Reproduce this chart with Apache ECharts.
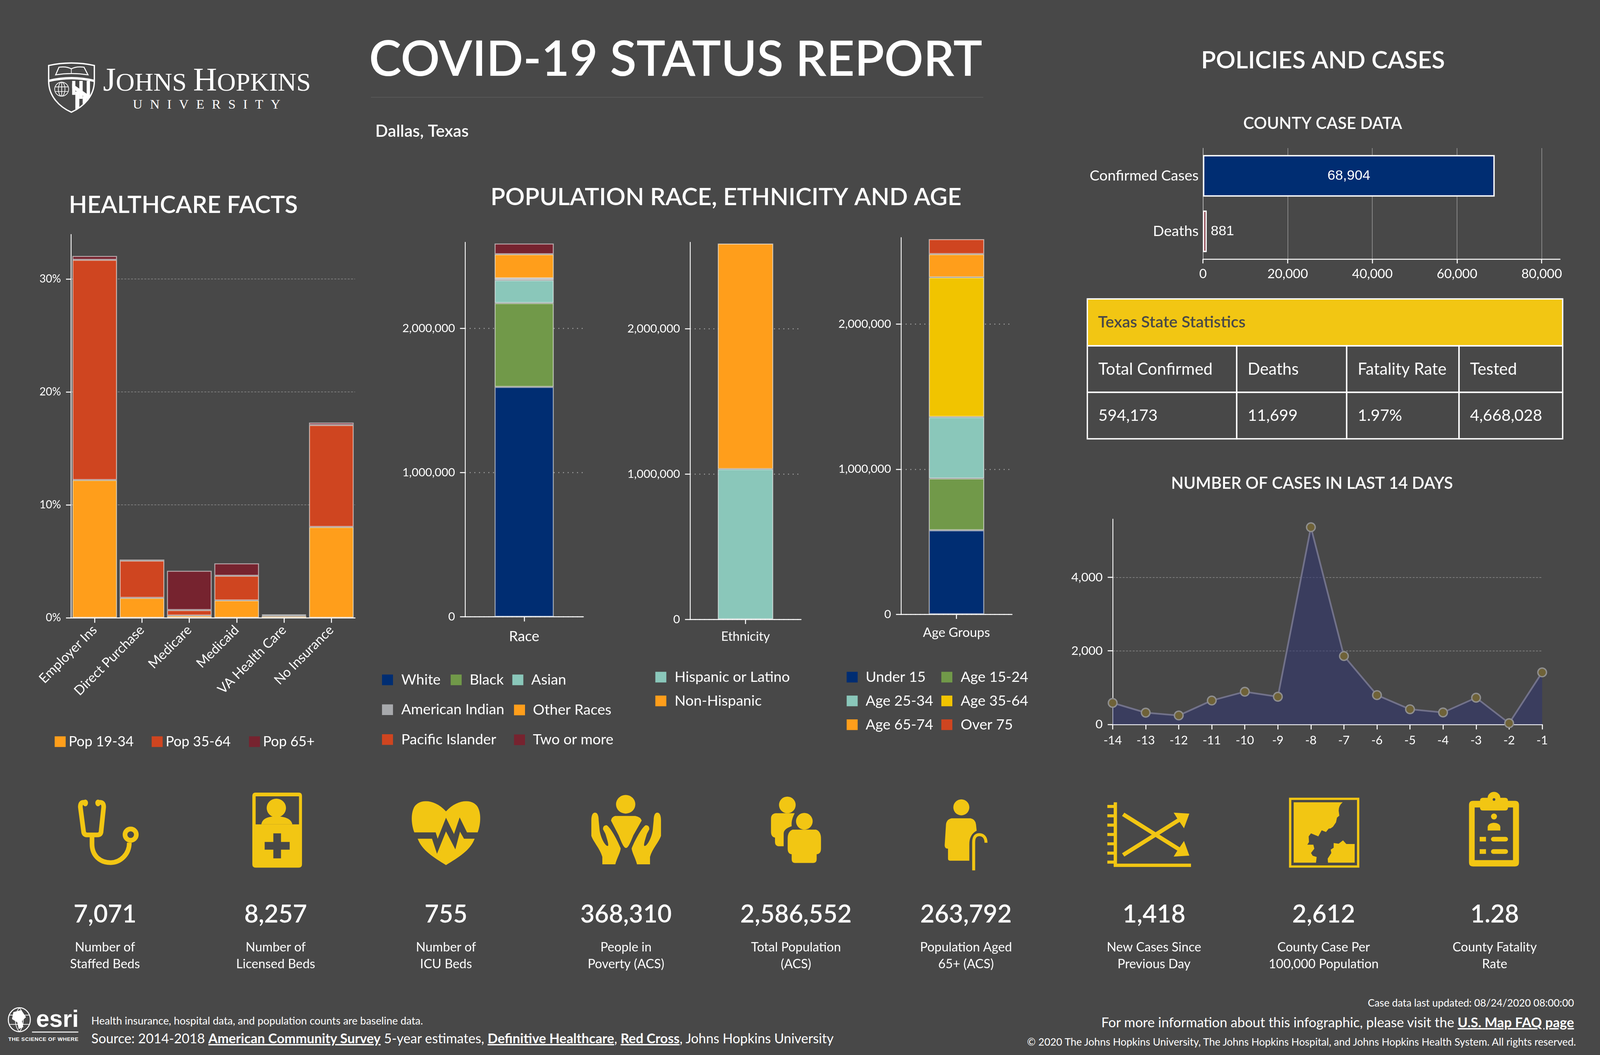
<!DOCTYPE html>
<html>
<head>
<meta charset="utf-8">
<title>COVID-19 Status Report - Dallas, Texas</title>
<style>
html, body { margin: 0; width: 100%; height: 100%; overflow: hidden; background: #484848; }
#art, #chart { position: absolute; left: 0; top: 0; width: 100%; height: 100%; }
#art text { font-family: Lato, sans-serif; fill: #fff; }
</style>
</head>
<body>
<!-- logos, icons and footer lines: drawn in 4800x2700 units, each piece is placed by its data-at anchor -->
<svg id="art" xmlns="http://www.w3.org/2000/svg">
  <defs>
    <clipPath id="quarter"><path d="M216,204H281V212C281,250 250,280 216,295Z"/></clipPath>
  </defs>
  <g data-at="145 224">
    <g fill="none" stroke="#fff" stroke-width="4">
      <path d="M146,158Q214,143 283,158V205C283,250 250,282 214,298C178,282 146,250 146,205Z"/>
      <path d="M147,204Q214,188 282,204" stroke-width="7"/>
      <path d="M167,186L177,163Q200,160 214,168Q228,160 252,163L264,186Q214,178 167,186Z" stroke-width="3"/>
      <path d="M214,168V182" stroke-width="2"/>
      <g stroke-width="2">
        <circle cx="185" cy="229" r="21"/><ellipse cx="185" cy="229" rx="10" ry="21"/>
        <path d="M185,208V250M165,222H205M165,236H205"/>
      </g>
    </g>
    <g clip-path="url(#quarter)" fill="#fff">
      <path d="M216,204H226V246H216ZM238,204H248V258H238ZM260,204H270V268H260Z"/>
      <path d="M216,212L282,258V272L216,226Z"/>
      <path d="M226,236H238V292H226ZM248,250H260V292H248Z"/>
    </g>
    <text y="233" style="font-family:'Liberation Serif',serif" font-size="78"><tspan x="309" font-size="99">J</tspan>OHNS <tspan font-size="99">H</tspan>OPKINS</text>
    <text x="631" y="287" text-anchor="middle" style="font-family:'Liberation Serif',serif" font-size="40" letter-spacing="22.5">UNIVERSITY</text>
  </g>
  <g data-at="25 2620">
    <g fill="none" stroke="#fff" stroke-width="3">
      <ellipse cx="58" cy="2608" rx="33" ry="36"/>
      <path d="M58,2572C42,2590 42,2626 58,2644M58,2572C74,2590 74,2626 58,2644M27,2594H89M27,2622H89" stroke-width="2"/>
    </g>
    <path d="M40,2585L64,2579L78,2600L66,2612L70,2630L56,2636L52,2616L36,2606Z" fill="#fff"/>
    <text x="108" y="2629" font-size="72" font-weight="700" style="font-family:'Liberation Sans',sans-serif">esri</text>
    <path d="M96,2645H235" stroke="#fff" stroke-width="3"/>
    <text x="25" y="2672" font-size="16" font-weight="700" textLength="210" style="font-family:'Liberation Sans',sans-serif">THE SCIENCE OF WHERE</text>
  </g>
  <text data-at="274 2613" x="274" y="2623" font-size="31.5">Health insurance, hospital data, and population counts are baseline data.</text>
  <text data-at="274 2658" x="274" y="2672" font-size="40">Source: 2014-2018 <tspan font-weight="700" text-decoration="underline">American Community Survey</tspan> 5-year estimates, <tspan font-weight="700" text-decoration="underline">Definitive Healthcare</tspan>, <tspan font-weight="700" text-decoration="underline">Red Cross</tspan>, Johns Hopkins University</text>
  <text data-at="4722 2567" x="4722" y="2577" font-size="30.6" text-anchor="end">Case data last updated: 08/24/2020 08:00:00</text>
  <text data-at="4722 2618" x="4722" y="2631" font-size="40.6" text-anchor="end">For more information about this infographic, please visit the <tspan font-weight="700" text-decoration="underline">U.S. Map FAQ page</tspan></text>
  <text data-at="4728 2667" x="4728" y="2677" font-size="31" text-anchor="end">© 2020 The Johns Hopkins University, The Johns Hopkins Hospital, and Johns Hopkins Health System. All rights reserved.</text>
  <path data-at="2031 249" d="M1113,249H2950" stroke="#5c5c5c" stroke-width="2"/>
  <!-- stethoscope -->
  <g data-at="325 2130">
    <g fill="none" stroke="#f2c613" stroke-width="14">
      <path d="M252,2040C244,2040 241,2044 241,2054L251,2130Q253,2138 262,2138H292Q301,2138 303,2130L311,2054C311,2044 308,2040 298,2040"/>
      <path d="M276,2144V2165C276,2200 300,2221 332,2221C362,2221 388,2195 388,2161"/>
      <circle cx="392" cy="2137" r="17"/>
    </g>
    <g fill="#f2c613"><ellipse cx="256" cy="2042" rx="8" ry="10"/><ellipse cx="294" cy="2042" rx="8" ry="10"/></g>
  </g>
  <!-- bed card -->
  <g data-at="831 2125" fill="#f2c613">
    <path fill-rule="evenodd" d="M767,2012H896Q906,2012 906,2022V2227Q906,2237 896,2237H767Q757,2237 757,2227V2022Q757,2012 767,2012ZM767,2023V2107H897V2023Z"/>
    <ellipse cx="829" cy="2058" rx="29" ry="28"/>
    <path d="M784,2107C786,2094 797,2083 829,2083C860,2083 875,2094 877,2107Z"/>
    <path d="M820,2134H843V2160H869V2183H843V2209H820V2183H794V2160H820Z" fill="#484848"/>
  </g>
  <!-- heart -->
  <g data-at="1338 2132" fill="#f2c613">
    <path d="M1243,2130C1235,2110 1232,2080 1240,2060C1250,2030 1300,2025 1338,2067C1376,2025 1426,2030 1436,2060C1444,2080 1441,2110 1433,2130H1401L1379,2085L1362,2135L1338,2086L1313,2149L1307,2130Z"/>
    <path d="M1253,2149H1296L1311,2194L1338,2127L1366,2181L1380,2128L1392,2149H1424C1410,2185 1375,2205 1338,2228C1301,2205 1267,2185 1253,2149Z"/>
  </g>
  <!-- hands -->
  <g data-at="1878 2124" fill="#f2c613">
    <ellipse cx="1877" cy="2047" rx="29" ry="28"/>
    <path d="M1845,2082H1906Q1922,2085 1925,2096L1900,2140C1892,2160 1885,2178 1878,2178C1871,2178 1864,2160 1856,2140L1833,2096Q1835,2085 1845,2082Z"/>
    <path id="hand" d="M1785,2072C1792,2072 1796,2080 1796,2095L1799,2126C1803,2150 1816,2172 1823,2172C1827,2172 1824,2160 1816,2135L1809,2122C1809,2112 1814,2110 1820,2110C1830,2115 1850,2150 1862,2179C1862,2190 1850,2210 1846,2227H1807V2205C1800,2180 1780,2160 1774,2142V2095C1774,2080 1778,2072 1785,2072Z"/>
    <use href="#hand" transform="translate(3757,0) scale(-1,1)"/>
  </g>
  <!-- two people -->
  <g data-at="2388 2124" fill="#f2c613">
    <ellipse cx="2362" cy="2049" rx="25" ry="25"/>
    <ellipse cx="2413" cy="2098" rx="25" ry="25"/>
    <path d="M2327,2074H2384C2376,2090 2374,2100 2375,2113C2360,2118 2351,2125 2351,2135V2173H2338Q2325,2173 2325,2160V2147Q2313,2145 2313,2130V2090Q2313,2076 2327,2074Z"/>
    <path d="M2378,2123H2448Q2463,2128 2463,2150V2180Q2463,2196 2450,2197V2212Q2450,2223 2440,2223H2385Q2375,2223 2375,2212V2197Q2363,2196 2363,2180V2150Q2363,2128 2378,2123Z"/>
  </g>
  <!-- elder with cane -->
  <g data-at="2898 2137" fill="#f2c613">
    <ellipse cx="2884" cy="2054" rx="24" ry="24"/>
    <path d="M2855,2087H2912Q2926,2090 2928,2105L2930,2124C2915,2132 2908,2145 2908,2165V2214H2850Q2844,2214 2844,2208V2178Q2834,2178 2834,2168L2838,2105Q2840,2090 2855,2087Z"/>
    <path d="M2921,2243V2158C2921,2140 2930,2136 2938,2136C2950,2136 2958,2145 2958,2160" fill="none" stroke="#f2c613" stroke-width="9"/>
  </g>
  <!-- crossing arrows chart -->
  <g data-at="3447 2136" fill="#f2c613">
    <path d="M3341,2039H3351V2223H3573V2233H3341Z"/>
    <path d="M3322,2047h21v9h-21zM3322,2075h21v9h-21zM3322,2103h21v9h-21zM3322,2131h21v9h-21zM3322,2159h21v9h-21zM3322,2187h21v9h-21zM3322,2214h21v9h-21z"/>
    <path id="arrow" d="M3366,2192L3532,2088L3521,2070L3568,2073L3552,2117L3539,2098L3373,2202Z"/>
    <use href="#arrow" transform="translate(0,4272) scale(1,-1)"/>
  </g>
  <!-- map -->
  <g data-at="3972 2131" fill="#f2c613">
    <path fill-rule="evenodd" d="M3867,2026H4078V2236H3867ZM3874,2033V2229H4071V2033Z"/>
    <path d="M3881,2040H4028Q4016,2050 4016,2065L4018,2080L4011,2086L4008,2100L3999,2113L3992,2118L3986,2119L3978,2129L3965,2124L3955,2142L3945,2138L3933,2133L3926,2142L3927,2159L3922,2167L3940,2167L3943,2179L3933,2192L3938,2200L3950,2204L3948,2221H3881Z"/>
    <path d="M3984,2221L3983,2209L3994,2192L3992,2182L4001,2176V2162L4016,2164L4029,2154L4039,2165H4064V2221Z"/>
  </g>
  <!-- clipboard -->
  <g data-at="4482 2122" fill="#f2c613">
    <path fill-rule="evenodd" d="M4463,2028C4463,2018 4472,2010 4482,2010C4492,2010 4501,2018 4501,2028H4515Q4524,2028 4524,2037H4545Q4557,2037 4557,2050V2222Q4557,2234 4545,2234H4419Q4407,2234 4407,2222V2050Q4407,2037 4419,2037H4440Q4440,2028 4449,2028ZM4424,2057V2215H4539V2057H4524V2058Q4524,2066 4514,2066H4450Q4440,2066 4440,2058V2057Z"/>
    <circle cx="4482" cy="2033" r="4" fill="#484848"/>
    <ellipse cx="4482" cy="2084" rx="9" ry="9"/>
    <path d="M4463,2126V2116C4463,2108 4472,2103 4482,2103C4492,2103 4501,2108 4501,2116V2126Z"/>
    <path d="M4439,2145h19v14h-19zM4439,2182h19v14h-19z"/>
    <rect x="4473" y="2145" width="51" height="14" rx="7"/>
    <rect x="4473" y="2182" width="51" height="14" rx="7"/>
  </g>
</svg>
<div id="chart"></div>
<script src="https://cdn.jsdelivr.net/npm/echarts@6/dist/echarts.min.js"></script>
<script>
// healthcare facts (percent of population)
var healthCategories = ['Employer Ins', 'Direct Purchase', 'Medicare', 'Medicaid', 'VA Health Care', 'No Insurance'];
var pop1934 = [12.2, 1.76, 0.2, 1.54, 0.15, 8.04];
var pop3564 = [19.5, 3.3, 0.48, 2.18, 0.08, 9.03];
var pop65 = [0.35, 0.1, 3.48, 1.1, 0.05, 0.22];

// population stacks
var raceNames = ['White', 'Black', 'Asian', 'American Indian', 'Pacific Islander', 'Other Races', 'Two or more'];
var raceValues = [1593000, 581000, 159000, 11000, 1500, 167000, 74052];
var ethnicityNames = ['Hispanic or Latino', 'Non-Hispanic'];
var ethnicityValues = [1034000, 1552552];
var ageNames = ['Under 15', 'Age 15-24', 'Age 25-34', 'Age 35-64', 'Age 65-74', 'Over 75'];
var ageValues = [579000, 357000, 424000, 962760, 160240, 103552];

// county cases
var countyNames = ['Confirmed Cases', 'Deaths'];
var countyValues = [68904, 881];

// last 14 days
var dayLabels = ['-14', '-13', '-12', '-11', '-10', '-9', '-8', '-7', '-6', '-5', '-4', '-3', '-2', '-1'];
var dayCases = [585, 320, 244, 650, 889, 753, 5360, 1859, 797, 412, 325, 726, 33, 1415];

// state table
var tableTitle = 'Texas State Statistics';
var tableHeads = ['Total Confirmed', 'Deaths', 'Fatality Rate', 'Tested'];
var tableValues = ['594,173', '11,699', '1.97%', '4,668,028'];

// bottom row
var kpiValues = ['7,071', '8,257', '755', '368,310', '2,586,552', '263,792', '1,418', '2,612', '1.28'];
var kpiLabels = ['Number of\nStaffed Beds', 'Number of\nLicensed Beds', 'Number of\nICU Beds', 'People in\nPoverty (ACS)', 'Total Population\n(ACS)', 'Population Aged\n65+ (ACS)', 'New Cases Since\nPrevious Day', 'County Case Per\n100,000 Population', 'County Fatality\nRate'];

var FONT = 'Lato', SEMI = 'Lato Semibold';
var ORANGE = '#ff9e1b', RED = '#cf4520', MAROON = '#76232f', NAVY = '#002d72',
    GREEN = '#719949', TEAL = '#8ac7ba', GREY = '#a7a9ac', GOLD = '#f1c400', YELLOW = '#f2c613';
var raceColors = [NAVY, GREEN, TEAL, GREY, RED, ORANGE, MAROON];
var ethnicityColors = [TEAL, ORANGE];
var ageColors = [NAVY, GREEN, TEAL, GOLD, ORANGE, RED];
var WHITE_EDGE = 'rgba(255,255,255,0.55)';

var myChart = echarts.init(document.getElementById('chart'));

// the design is 4800x2700; positions follow the real window, sizes keep their proportions
var sx = 1, sy = 1, f = 1;
function X(v) { return v * sx; }
function Y(v) { return v * sy; }
function F(v) { return v * f; }

function placeArt() {
  document.querySelectorAll('#art [data-at]').forEach(function (el) {
    var at = el.getAttribute('data-at').split(' ');
    var ax = +at[0], ay = +at[1];
    el.setAttribute('transform', 'translate(' + X(ax) + ',' + Y(ay) + ') scale(' + f + ') translate(' + (-ax) + ',' + (-ay) + ')');
  });
}

function txt(text, x, y, size, family, align, color) {
  return {
    type: 'text', x: X(x), y: Y(y),
    style: {
      text: text, fontFamily: family || FONT, fontSize: F(size),
      fill: color || '#fff', align: align || 'center', verticalAlign: 'middle',
      textAlign: align || 'center', textVerticalAlign: 'middle', lineHeight: Y(43)
    }
  };
}

function cell(x, y, w, h, fill) {
  return {
    type: 'rect', shape: { x: X(x), y: Y(y), width: X(w), height: Y(h) },
    style: { fill: fill || 'transparent', stroke: '#fff', lineWidth: F(4) }
  };
}

function buildGraphics() {
  var items = [
    txt('COVID-19 STATUS REPORT', 2027, 154, 146, SEMI),
    txt('Dallas, Texas', 1126, 336, 50, SEMI, 'left'),
    txt('HEALTHCARE FACTS', 550, 525, 71.5, SEMI),
    txt('POPULATION RACE, ETHNICITY AND AGE', 2178, 505, 72.5, SEMI),
    txt('POLICIES AND CASES', 3969, 155, 73, SEMI),
    txt('COUNTY CASE DATA', 3968, 317, 49, SEMI),
    txt('NUMBER OF CASES IN LAST 14 DAYS', 3936, 1238, 49, SEMI)
  ];
  var colEdges = [3262, 3710, 4040, 4377, 4688];
  var rowEdges = [885, 1004, 1123];
  items.push(cell(3262, 765, 1426, 120, YELLOW));
  items.push(txt(tableTitle, 3294, 825, 48, SEMI, 'left', '#484848'));
  for (var c = 0; c < 4; c++) {
    var cx = colEdges[c], cw = colEdges[c + 1] - cx;
    items.push(cell(cx, rowEdges[0], cw, 119));
    items.push(cell(cx, rowEdges[1], cw, 119));
    items.push(txt(tableHeads[c], cx + 33, 946, 49, FONT, 'left'));
    items.push(txt(tableValues[c], cx + 33, 1064, 48, FONT, 'left'));
  }
  var kpiCenters = [315, 827, 1338, 1878, 2388, 2898, 3462, 3971, 4484];
  kpiValues.forEach(function (v, i) {
    items.push(txt(v, kpiCenters[i], 2341, 74, SEMI));
    items.push(txt(kpiLabels[i], kpiCenters[i], 2446, 38, FONT));
  });
  return items;
}

function axisLine(w) { return { show: true, lineStyle: { color: '#fff', width: F(w) } }; }
function tick(len, values) {
  var t = { show: true, length: F(len), alignWithLabel: true, lineStyle: { color: '#fff', width: F(3) } };
  if (values) t.customValues = values;
  return t;
}

function valueAxis(gridIndex, max, ticks, labelSize, gridStyle, formatter) {
  return {
    type: 'value', gridIndex: gridIndex, min: 0, max: max,
    axisLine: axisLine(2.5),
    axisTick: tick(15, ticks),
    axisLabel: { color: '#fff', fontFamily: FONT, fontSize: F(labelSize), margin: F(30), customValues: ticks, formatter: formatter },
    splitLine: { show: true, lineStyle: gridStyle }
  };
}
function bandAxis(gridIndex, data, fontSize, margin) {
  return {
    type: 'category', gridIndex: gridIndex, data: data,
    axisLine: axisLine(3), axisTick: tick(14),
    axisLabel: { color: '#fff', fontFamily: FONT, fontSize: F(fontSize), margin: Y(margin) }
  };
}

function columnSeries(names, values, colors, axisIndex) {
  return names.map(function (name, i) {
    return {
      name: name, type: 'bar', stack: 'col' + axisIndex, xAxisIndex: axisIndex, yAxisIndex: axisIndex,
      barWidth: '50%', data: [values[i]],
      itemStyle: { color: colors[i], borderColor: WHITE_EDGE, borderWidth: F(3) }
    };
  });
}
function healthSeries(name, values, color) {
  return {
    name: name, type: 'bar', stack: 'health', xAxisIndex: 0, yAxisIndex: 0, barCategoryGap: '5.6%',
    data: values, itemStyle: { color: color, borderColor: WHITE_EDGE, borderWidth: F(3) }
  };
}

// one legend column; rowY is the centre of its first row
function legendBlock(names, left, rowY, rowStep, pad, size) {
  var h = F(size);
  return {
    data: names, orient: 'vertical', left: X(left), top: Y(rowY) - h / 2, padding: 0,
    itemGap: Y(rowStep) - h,
    itemWidth: F(33), itemHeight: F(32), icon: 'rect', selectedMode: false,
    itemStyle: { borderWidth: 0 },
    textStyle: { color: '#fff', fontFamily: FONT, fontSize: h, padding: [0, 0, 0, F(pad)] }
  };
}

function buildOption() {
  var dashed = { color: '#8c8c8c', width: F(2), type: [F(6), F(4)] };
  var dotted = { color: '#a3a3a3', width: F(3), type: [F(3), F(11)] };
  var countyTicks = [0, 20000, 40000, 60000, 80000];
  var millions = [0, 1000000, 2000000];
  return {
    animation: false,
    backgroundColor: 'transparent',
    grid: [
      { left: X(213), top: Y(600), width: X(852), height: Y(981) },
      { left: X(1395), top: Y(620), width: X(355), height: Y(958.5) },
      { left: X(2070), top: Y(620), width: X(333), height: Y(965) },
      { left: X(2703), top: Y(608), width: X(333), height: Y(964) },
      { left: X(3609), top: Y(379), width: X(1071), height: Y(284) },
      { left: X(3338), top: Y(1328.5), width: X(1288.5), height: Y(525.5) }
    ],
    xAxis: [
      {
        type: 'category', gridIndex: 0, data: healthCategories,
        axisLine: axisLine(3), axisTick: tick(15),
        axisLabel: { color: '#fff', fontFamily: FONT, fontSize: F(40), rotate: 45, interval: 0, margin: F(30) }
      },
      bandAxis(1, ['Race'], 43, 32),
      bandAxis(2, ['Ethnicity'], 38, 29),
      bandAxis(3, ['Age Groups'], 39, 31),
      {
        type: 'value', gridIndex: 4, min: 0, max: 84330,
        axisLine: axisLine(3), axisTick: tick(13, countyTicks),
        axisLabel: { color: '#fff', fontFamily: FONT, fontSize: F(39), margin: F(26), customValues: countyTicks },
        splitLine: { show: true, lineStyle: { color: 'rgba(255,255,255,0.4)', width: F(2) } }
      },
      {
        type: 'category', gridIndex: 5, data: dayLabels, boundaryGap: false,
        axisLine: axisLine(3), axisTick: tick(15),
        axisLabel: { color: '#fff', fontFamily: FONT, fontSize: F(36), interval: 0, margin: F(30) }
      }
    ],
    yAxis: [
      valueAxis(0, 33.95, [0, 10, 20, 30], 33, dashed, '{value}%'),
      valueAxis(1, 2595500, millions, 35, dotted),
      valueAxis(2, 2595500, millions, 35, dotted),
      valueAxis(3, 2597000, millions, 35, dotted),
      {
        type: 'category', gridIndex: 4, data: countyNames, inverse: true,
        axisLine: { show: true, lineStyle: { color: 'rgba(255,255,255,0.4)', width: F(2) } },
        axisTick: { show: false },
        axisLabel: { color: '#fff', fontFamily: FONT, fontSize: F(44), margin: F(13) }
      },
      valueAxis(5, 5581, [0, 2000, 4000], 37, dashed)
    ],
    legend: [
      legendBlock(['Pop 19-34'], 164, 1898, 76, 3, 42),
      legendBlock(['Pop 35-64'], 455, 1898, 76, 3, 42),
      legendBlock(['Pop 65+'], 747, 1898, 76, 3, 42),
      legendBlock(['White', 'American Indian', 'Pacific Islander'], 1146, 1740, 76.5, 19, 43.5),
      legendBlock(['Black'], 1352, 1740, 76.5, 18, 43.5),
      legendBlock(['Asian'], 1537, 1740, 76.5, 18, 43.5),
      legendBlock(['Other Races', 'Two or more'], 1542, 1817, 76.5, 18, 43.5),
      legendBlock(ethnicityNames, 1966, 1733, 61, 19, 43.5),
      legendBlock(['Under 15', 'Age 25-34', 'Age 65-74'], 2540, 1733, 61, 18, 43.5),
      legendBlock(['Age 15-24', 'Age 35-64', 'Over 75'], 2824, 1733, 61, 19, 43.5)
    ],
    series: [
      healthSeries('Pop 19-34', pop1934, ORANGE),
      healthSeries('Pop 35-64', pop3564, RED),
      healthSeries('Pop 65+', pop65, MAROON)
    ].concat(
      columnSeries(raceNames, raceValues, raceColors, 1),
      columnSeries(ethnicityNames, ethnicityValues, ethnicityColors, 2),
      columnSeries(ageNames, ageValues, ageColors, 3),
      [
        {
          name: 'County', type: 'bar', xAxisIndex: 4, yAxisIndex: 4, barCategoryGap: '25%',
          data: [
            {
              value: countyValues[0], itemStyle: { color: NAVY },
              label: {
                show: true, position: 'inside', color: '#fff', fontFamily: 'Liberation Sans', fontSize: F(42),
                formatter: function (p) { return echarts.format.addCommas(p.value); }
              }
            },
            {
              value: countyValues[1], itemStyle: { color: MAROON },
              label: { show: true, position: 'right', distance: F(12), color: '#fff', fontFamily: 'Liberation Sans', fontSize: F(42) }
            }
          ],
          itemStyle: { borderColor: '#fff', borderWidth: F(4) }
        },
        {
          name: 'Cases', type: 'line', xAxisIndex: 5, yAxisIndex: 5, data: dayCases,
          symbol: 'circle', symbolSize: F(26),
          lineStyle: { color: '#72728a', width: F(5) },
          itemStyle: { color: '#6f6238', borderColor: '#8f8f8f', borderWidth: F(4) },
          areaStyle: { color: 'rgba(48,54,112,0.8)' }
        }
      ]
    ),
    graphic: { elements: buildGraphics() }
  };
}

function render() {
  sx = window.innerWidth / 4800;
  sy = window.innerHeight / 2700;
  f = Math.min(sx, sy);
  placeArt();
  myChart.resize();
  myChart.setOption(buildOption(), true);
}
render();
window.addEventListener('resize', render);
</script>
</body>
</html>
